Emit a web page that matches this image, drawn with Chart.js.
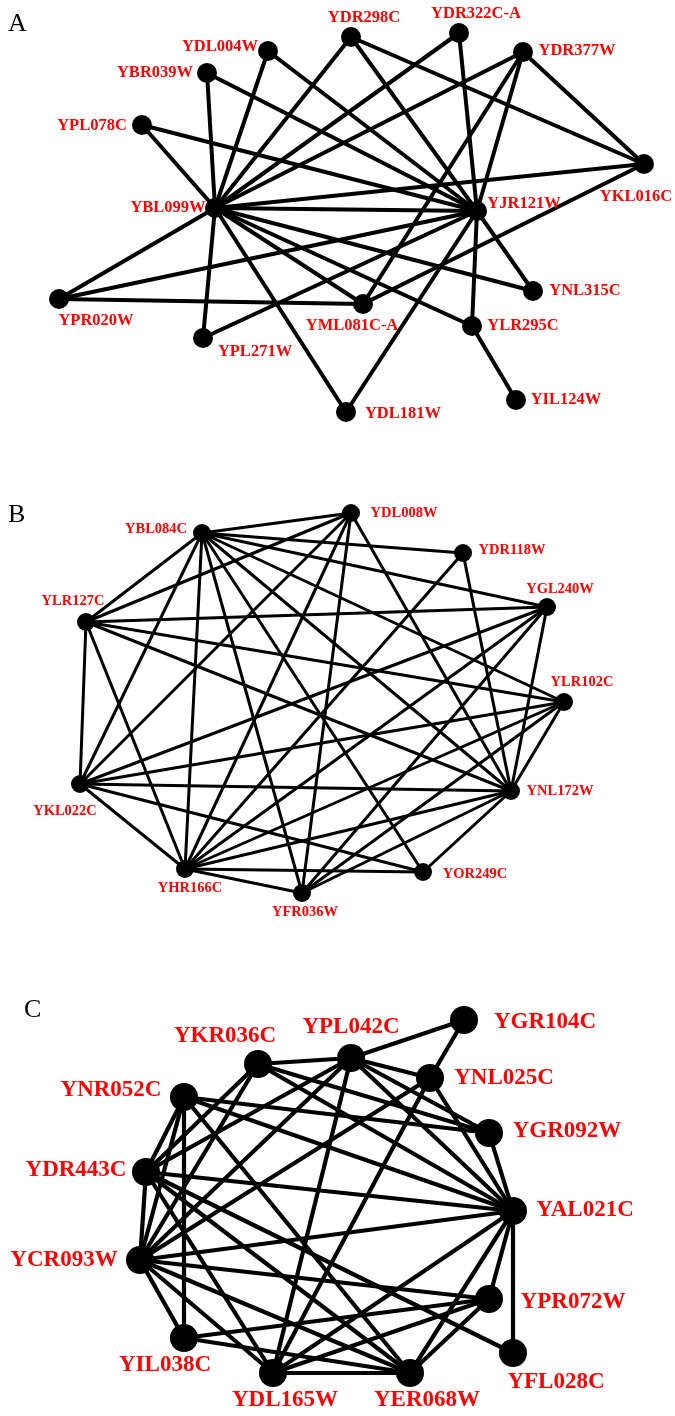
<!DOCTYPE html>
<html><head><meta charset="utf-8">
<script src="https://cdn.jsdelivr.net/npm/chart.js@4.4.0/dist/chart.umd.min.js"></script>
<style>html,body{margin:0;padding:0;background:#fff;overflow:hidden}canvas{display:block}</style>
</head><body>
<canvas id="c" width="675" height="1416"></canvas>
<script>
// ---------- DATA ----------
const panelLetters = ['A', 'B', 'C'];

// Panel A
const nodesA = ['YBL099W','YJR121W','YDL004W','YBR039W','YPL078C','YDR298C','YDR322C-A','YDR377W','YKL016C','YPR020W','YPL271W','YML081C-A','YNL315C','YLR295C','YIL124W','YDL181W'];
const xA = [215,477,268,207,142,351,459,523,644,59,203,363,533,472,516,346];
const yA = [208,211,51,73,125,37,33,52,164,299,338,304,291,326,400,412];
const edgesA = [
  ['YBL099W','YJR121W'],['YBL099W','YDL004W'],['YBL099W','YBR039W'],['YBL099W','YPL078C'],['YBL099W','YDR298C'],
  ['YBL099W','YDR322C-A'],['YBL099W','YDR377W'],['YBL099W','YKL016C'],['YBL099W','YPR020W'],['YBL099W','YPL271W'],
  ['YBL099W','YML081C-A'],['YBL099W','YNL315C'],['YBL099W','YLR295C'],['YBL099W','YDL181W'],
  ['YJR121W','YDL004W'],['YJR121W','YBR039W'],['YJR121W','YPL078C'],['YJR121W','YDR298C'],['YJR121W','YDR322C-A'],
  ['YJR121W','YDR377W'],['YJR121W','YPR020W'],['YJR121W','YPL271W'],['YJR121W','YDL181W'],['YJR121W','YNL315C'],
  ['YJR121W','YLR295C'],
  ['YDR298C','YKL016C'],['YDR377W','YKL016C'],['YDR377W','YML081C-A'],['YML081C-A','YKL016C'],
  ['YPR020W','YML081C-A'],['YLR295C','YIL124W']
];

// Panel B
const nodesB = ['YBL084C','YDL008W','YDR118W','YGL240W','YLR127C','YLR102C','YKL022C','YNL172W','YHR166C','YFR036W','YOR249C'];
const xB = [202,351,463,547,86,564,80,511,185,302,423];
const yB = [533,513,553,607,622,702,784,791,869,893,872];
const edgesB = [
  ['YBL084C','YDL008W'],['YBL084C','YDR118W'],['YBL084C','YGL240W'],['YBL084C','YLR102C'],['YBL084C','YNL172W'],
  ['YBL084C','YOR249C'],['YBL084C','YFR036W'],['YBL084C','YHR166C'],['YBL084C','YKL022C'],['YBL084C','YLR127C'],
  ['YDL008W','YKL022C'],['YDL008W','YHR166C'],['YDL008W','YFR036W'],['YDL008W','YNL172W'],['YDL008W','YLR127C'],
  ['YDR118W','YNL172W'],['YDR118W','YHR166C'],
  ['YGL240W','YLR127C'],['YGL240W','YKL022C'],['YGL240W','YHR166C'],['YGL240W','YFR036W'],['YGL240W','YNL172W'],
  ['YLR127C','YKL022C'],['YLR127C','YHR166C'],['YLR127C','YLR102C'],['YLR127C','YNL172W'],
  ['YLR102C','YKL022C'],['YLR102C','YHR166C'],['YLR102C','YFR036W'],['YLR102C','YNL172W'],
  ['YKL022C','YNL172W'],['YKL022C','YHR166C'],['YKL022C','YOR249C'],
  ['YNL172W','YHR166C'],['YNL172W','YFR036W'],['YNL172W','YOR249C'],
  ['YHR166C','YFR036W'],['YHR166C','YOR249C']
];

// Panel C
const nodesC = ['YGR104C','YPL042C','YKR036C','YNL025C','YNR052C','YGR092W','YDR443C','YAL021C','YCR093W','YPR072W','YIL038C','YFL028C','YDL165W','YER068W'];
const xC = [464,351,258,430,184,489,146,513,140,489,184,513,273,410];
const yC = [1020,1058,1064,1078,1097,1133,1172,1211,1260,1299,1338,1353,1373,1373];
const edgesC = [
  ['YGR104C','YPL042C'],['YGR104C','YNL025C'],
  ['YPL042C','YKR036C'],['YPL042C','YNL025C'],['YPL042C','YGR092W'],['YPL042C','YAL021C'],['YPL042C','YDR443C'],
  ['YPL042C','YCR093W'],['YPL042C','YDL165W'],
  ['YNL025C','YAL021C'],['YNL025C','YCR093W'],['YNL025C','YDL165W'],
  ['YKR036C','YGR092W'],['YKR036C','YAL021C'],['YKR036C','YDR443C'],['YKR036C','YCR093W'],
  ['YNR052C','YGR092W'],['YNR052C','YAL021C'],['YNR052C','YDR443C'],['YNR052C','YCR093W'],['YNR052C','YIL038C'],
  ['YNR052C','YER068W'],
  ['YDR443C','YCR093W'],['YDR443C','YDL165W'],['YDR443C','YER068W'],['YDR443C','YAL021C'],['YDR443C','YFL028C'],
  ['YCR093W','YAL021C'],['YCR093W','YPR072W'],['YCR093W','YIL038C'],['YCR093W','YDL165W'],['YCR093W','YER068W'],
  ['YAL021C','YGR092W'],['YAL021C','YPR072W'],['YAL021C','YFL028C'],['YAL021C','YDL165W'],['YAL021C','YER068W'],
  ['YIL038C','YPR072W'],['YIL038C','YER068W'],
  ['YDL165W','YER068W'],['YDL165W','YPR072W'],['YER068W','YPR072W']
];

// ---------- STYLE / LAYOUT ----------
const panelStyle = [
  {nodes: nodesA, xs: xA, ys: yA, edges: edgesA, r: 10, lw: 4, font: 'bold 16.5px "Liberation Serif"', letterPos: [8, 24]},
  {nodes: nodesB, xs: xB, ys: yB, edges: edgesB, r: 9, lw: 3, font: 'bold 14.5px "Liberation Serif"', letterPos: [8, 515]},
  {nodes: nodesC, xs: xC, ys: yC, edges: edgesC, r: 14, lw: 4.2, font: 'bold 23px "Liberation Serif"', letterPos: [24, 1010]}
];
// label centre offsets from node centre
const labelOffsets = {
  'YBL099W':[-47,0],'YJR121W':[47,-7],'YDL004W':[-48,-4],'YBR039W':[-52,0],'YPL078C':[-50,1],'YDR298C':[13,-19],
  'YDR322C-A':[17,-19],'YDR377W':[54,-1],'YKL016C':[-8,33],'YPR020W':[37,22],'YPL271W':[52,14],'YML081C-A':[-11,22],
  'YNL315C':[52,0],'YLR295C':[51,0],'YIL124W':[50,0],'YDL181W':[57,2],
  'YBL084C':[-46,-4],'YDL008W':[53,0],'YDR118W':[49,-3],'YGL240W':[13,-18],'YLR127C':[-13,-21],'YLR102C':[18,-20],
  'YKL022C':[-15,27],'YNL172W':[49,0],'YHR166C':[5,19],'YFR036W':[3,19],'YOR249C':[52,2],
  'YGR104C':[81,2],'YPL042C':[0,-31],'YKR036C':[-33,-28],'YNL025C':[74,0],'YNR052C':[-73,-7],'YGR092W':[78,-2],
  'YDR443C':[-70,-2],'YAL021C':[72,-1],'YCR093W':[-76,0],'YPR072W':[84,3],'YIL038C':[-19,27],'YFL028C':[43,29],
  'YDL165W':[12,27],'YER068W':[17,27]
};

// ---------- BUILD ----------
const datasets = [];
panelStyle.forEach(p => {
  const idx = n => p.nodes.indexOf(n);
  p.edges.forEach(([a, b]) => {
    datasets.push({
      type: 'scatter', showLine: true, order: 2,
      data: [{x: p.xs[idx(a)], y: p.ys[idx(a)]}, {x: p.xs[idx(b)], y: p.ys[idx(b)]}],
      borderColor: '#000', borderWidth: p.lw, pointRadius: 0, fill: false
    });
  });
  datasets.push({
    type: 'scatter', order: 0, label: 'nodes',
    data: p.nodes.map((n, i) => ({x: p.xs[i], y: p.ys[i], name: n})),
    backgroundColor: '#000', borderColor: '#000', borderWidth: 0, pointRadius: p.r, pointHoverRadius: p.r,
    labelFont: p.font
  });
});

const labelPlugin = {
  id: 'labels',
  afterDatasetsDraw(chart) {
    const ctx = chart.ctx;
    const xs = chart.scales.x, ys = chart.scales.y;
    ctx.save();
    chart.data.datasets.forEach(ds => {
      if (ds.label !== 'nodes') return;
      ctx.font = ds.labelFont;
      ctx.fillStyle = '#ff0000';
      ctx.textAlign = 'center';
      ctx.textBaseline = 'middle';
      ds.data.forEach(d => {
        const o = labelOffsets[d.name] || [0, 0];
        ctx.fillText(d.name, xs.getPixelForValue(d.x) + o[0], ys.getPixelForValue(d.y) + o[1]);
      });
    });
    ctx.font = '26px "Liberation Serif"';
    ctx.fillStyle = '#000';
    ctx.textAlign = 'left';
    ctx.textBaseline = 'middle';
    panelStyle.forEach((p, i) => ctx.fillText(panelLetters[i], p.letterPos[0], p.letterPos[1]));
    ctx.restore();
  }
};

new Chart(document.getElementById('c'), {
  type: 'scatter',
  data: {datasets},
  options: {
    responsive: false, animation: false, devicePixelRatio: 1, events: [],
    layout: {padding: 0, autoPadding: false},
    plugins: {legend: {display: false}, tooltip: {enabled: false}},
    scales: {
      x: {type: 'linear', min: 0, max: 675, display: false},
      y: {type: 'linear', min: 0, max: 1416, reverse: true, display: false}
    }
  },
  plugins: [labelPlugin]
});
</script>
</body></html>
